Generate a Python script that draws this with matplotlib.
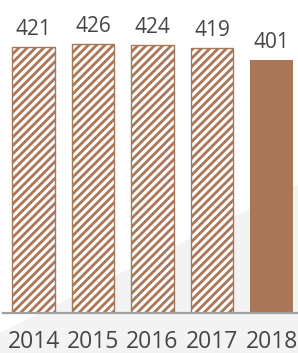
import matplotlib.pyplot as plt
from matplotlib.patches import Polygon

years = ["2014", "2015", "2016", "2017", "2018"]
values = [421, 426, 424, 419, 401]
hatched = [True, True, True, True, False]

brown = "#a97658"
text_col = "#454545"

plt.rcParams['font.family'] = ['Open Sans', 'DejaVu Sans']
plt.rcParams['hatch.linewidth'] = 2.0

fig = plt.figure(figsize=(2.98, 3.53), dpi=100, facecolor='white')

# faint diagonal backdrop at the bottom
fig.patches.append(Polygon([(0, 0), (0, 0.057), (1, 0.476), (1, 0)],
                           closed=True, transform=fig.transFigure,
                           facecolor='#f3f3f3', edgecolor='none', zorder=-5))

ax = fig.add_axes([0, 0.114, 1, 0.889])
ax.set_facecolor('none')
ax.set_zorder(2)

x = list(range(len(years)))
for xi, v, h in zip(x, values, hatched):
    if h:
        ax.bar(xi, v, width=0.72, facecolor='white', edgecolor=brown,
               hatch='////', linewidth=1.0, zorder=2)
    else:
        ax.bar(xi, v, width=0.72, facecolor=brown, edgecolor=brown,
               linewidth=0, zorder=2)
    ax.annotate(str(v), (xi, v), xytext=(0, 8.5), textcoords='offset points',
                ha='center', va='baseline', fontsize=15, color=text_col)

ax.axhline(0, xmin=0.01, xmax=1, color='#a0a0a0', lw=1.6, zorder=3,
           clip_on=False)

ax.set_xlim(-0.563, 4.445)
ax.set_ylim(0, 497)
ax.set_xticks(x)
ax.set_xticklabels(years, fontsize=16.5, color=text_col)
ax.tick_params(axis='x', length=0, pad=12.5)
ax.set_yticks([])
for s in ax.spines.values():
    s.set_visible(False)

fig.savefig("out.png", dpi=100, facecolor='white')
